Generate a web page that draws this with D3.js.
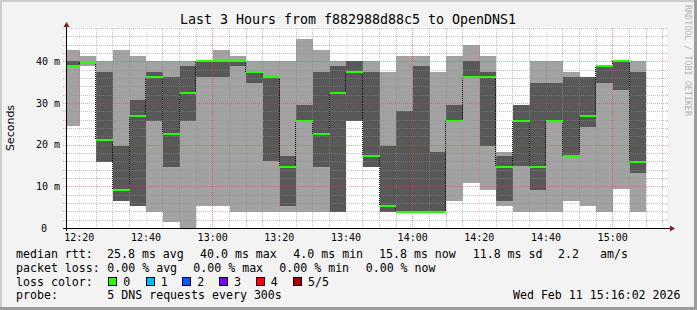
<!DOCTYPE html>
<html>
<head>
<meta charset="utf-8">
<script src="https://cdn.jsdelivr.net/npm/d3@7"></script>
<style>
  body { margin: 0; background: #f3f3f3; }
  svg { display: block; }
  text { font-family: "DejaVu Sans Mono", monospace; fill: #000; }
</style>
</head>
<body>
<div id="chart"></div>
<script>
// datos (ms), un intervalo de 5 min por barra
const slots = ["12:15","12:20","12:25","12:30","12:35","12:40","12:45","12:50","12:55",
  "13:00","13:05","13:10","13:15","13:20","13:25","13:30","13:35","13:40","13:45","13:50","13:55",
  "14:00","14:05","14:10","14:15","14:20","14:25","14:30","14:35","14:40","14:45","14:50","14:55",
  "15:00","15:05"];
const minRtt = [24.4,38.8,15.8,6.6,5.4,3.9,1.4,0.0,5.4,5.4,3.9,3.9,3.9,3.9,3.9,3.9,3.9,25.6,14.6,3.9,3.9,
  3.9,3.9,6.6,10.8,9.2,5.4,3.9,3.9,3.9,6.6,5.4,3.9,9.4,3.9];
const lowRtt = [38.7,39.6,15.8,6.6,5.4,25.6,14.6,25.6,36.2,36.2,38.8,34.8,16.0,5.4,25.6,14.6,3.9,25.6,14.6,3.9,3.9,
  3.9,3.9,25.6,36.2,19.8,6.6,14.8,9.2,25.6,17.2,24.2,34.8,33.2,13.2];
const medRtt = [38.8,39.8,21.2,9.2,26.8,36.2,22.5,32.3,40.0,40.0,40.0,37.4,36.2,14.6,25.6,22.5,32.3,37.4,17.2,5.4,3.9,
  3.9,3.9,25.6,36.2,36.2,14.6,25.6,14.6,25.6,17.2,26.8,38.8,40.0,15.8];
const highRtt = [40.0,40.0,37.4,19.8,30.8,37.4,36.2,38.8,40.0,40.1,40.1,37.5,36.3,17.2,29.6,37.4,38.8,40.0,37.4,19.8,28.2,
  38.8,18.3,29.6,40.0,37.4,17.2,29.6,34.8,34.8,36.2,36.2,38.8,40.0,37.4];
const maxRtt = [42.6,41.4,40.0,42.6,41.4,40.0,40.0,40.0,40.0,42.6,41.4,40.0,40.0,40.0,45.4,42.6,40.0,40.0,40.0,37.4,41.4,
  41.4,37.4,41.4,44.0,41.4,18.3,29.6,40.0,40.0,37.4,36.2,38.8,40.0,40.0];

const yTicks = [0, 10, 20, 30, 40];
const yTickLabels = ["0", "10 m", "20 m", "30 m", "40 m"];

const lossLabels = ["0", "1", "2", "3", "4", "5/5"];
const lossColors = ["#26ff00", "#00b8ff", "#0059ff", "#7e00ff", "#ff0000", "#a00000"];

const rttStats = ["25.8 ms avg", "40.0 ms max", "4.0 ms min", "15.8 ms now", "11.8 ms sd", "2.2", "am/s"];
const lossStats = ["0.00 % avg", "0.00 % max", "0.00 % min", "0.00 % now"];

const W = 697, H = 310;
const plot = { left: 66, right: 666, top: 28, bottom: 228 };

const parseT = d3.utcParse("%H:%M");
const t0 = parseT("12:16"), t1 = parseT("15:16");

const svg = d3.select("#chart").append("svg").attr("width", W).attr("height", H);

// fondo y marco
svg.append("rect").attr("width", W).attr("height", H).attr("fill", "#f3f3f3");
svg.append("path").attr("d", `M1,${H} V1 H${W}`).attr("fill", "none").attr("stroke", "#cdcdcd").attr("stroke-width", 2);
svg.append("path").attr("d", `M0,${H - 1.5} H${W - 1.5} V0`).attr("fill", "none").attr("stroke", "#9c9c9c").attr("stroke-width", 3);

const x = d3.scaleUtc().domain([t0, t1]).range([plot.left, plot.right]);
const y = d3.scaleLinear().domain([0, 48]).range([plot.bottom, plot.top]);
const px = t => Math.ceil(x(t) - 0.05);
const gx = t => Math.floor(x(t) + 0.05) + 0.5;
const py = v => Math.round(y(v));

svg.append("rect")
  .attr("x", plot.left).attr("y", plot.top - 1)
  .attr("width", plot.right - plot.left + 1).attr("height", plot.bottom - plot.top + 1)
  .attr("fill", "#fff");

svg.append("clipPath").attr("id", "clip")
  .append("rect").attr("x", plot.left + 1).attr("y", 0).attr("width", plot.right - plot.left).attr("height", H);

const data = slots.map((s, i) => ({
  t: parseT(s),
  t2: d3.utcMinute.offset(parseT(s), 5),
  min: minRtt[i], lo: lowRtt[i], med: medRtt[i], hi: highRtt[i], max: maxRtt[i]
}));

const smoke = svg.append("g").attr("clip-path", "url(#clip)").attr("shape-rendering", "crispEdges");

// humo exterior
smoke.selectAll("rect.outer").data(data).join("rect")
  .attr("class", "outer")
  .attr("x", d => px(d.t)).attr("width", d => px(d.t2) - px(d.t))
  .attr("y", d => py(d.max)).attr("height", d => py(d.min) - py(d.max))
  .attr("fill", "#a2a2a2");

// humo interior
smoke.selectAll("rect.inner").data(data).join("rect")
  .attr("class", "inner")
  .attr("x", d => px(d.t)).attr("width", d => px(d.t2) - px(d.t))
  .attr("y", d => py(d.hi)).attr("height", d => py(d.lo) - py(d.hi))
  .attr("fill", "#585858");

// rejilla
const grid = svg.append("g").attr("shape-rendering", "crispEdges");
const minorY = d3.range(0, 49, 2).filter(v => v % 10 !== 0);
grid.selectAll("line.hmin").data(minorY).join("line")
  .attr("x1", plot.left - 3).attr("x2", plot.right + 2)
  .attr("y1", d => py(d) + 0.5).attr("y2", d => py(d) + 0.5)
  .attr("stroke", "rgba(140,140,140,0.5)").attr("stroke-dasharray", "1,1");
grid.selectAll("line.hmaj").data(yTicks.slice(1)).join("line")
  .attr("x1", plot.left - 3).attr("x2", plot.right + 2)
  .attr("y1", d => py(d) + 0.5).attr("y2", d => py(d) + 0.5)
  .attr("stroke", "rgba(235,60,60,0.45)").attr("stroke-dasharray", "1,1");

const ticks5 = d3.utcMinute.every(5).range(t0, t1);
const minorX = ticks5.filter(d => d.getUTCMinutes() % 20 !== 0);
const majorX = ticks5.filter(d => d.getUTCMinutes() % 20 === 0);
grid.selectAll("line.vmin").data(minorX).join("line")
  .attr("x1", gx).attr("x2", gx)
  .attr("y1", plot.top).attr("y2", plot.bottom + 2)
  .attr("stroke", "rgba(140,140,140,0.5)").attr("stroke-dasharray", "1,1");
grid.selectAll("line.vmaj").data(majorX).join("line")
  .attr("x1", gx).attr("x2", gx)
  .attr("y1", plot.top).attr("y2", plot.bottom + 2)
  .attr("stroke", d => d.getUTCMinutes() === 0 ? "rgba(235,60,60,0.6)" : "rgba(235,60,60,0.2)")
  .attr("stroke-dasharray", "1,1");

// mediana: conectores punteados y segmentos verdes
const med = svg.append("g").attr("clip-path", "url(#clip)").attr("shape-rendering", "crispEdges");
med.selectAll("line.conn").data(data.slice(1)).join("line")
  .attr("x1", d => px(d.t) - 0.5).attr("x2", d => px(d.t) - 0.5)
  .attr("y1", (d, i) => py(data[i].med)).attr("y2", d => py(d.med))
  .attr("stroke", "#000").attr("stroke-dasharray", "1,1");
med.selectAll("line.med").data(data).join("line")
  .attr("x1", d => px(d.t)).attr("x2", d => px(d.t2))
  .attr("y1", d => py(d.med)).attr("y2", d => py(d.med))
  .attr("stroke", lossColors[0]).attr("stroke-width", 2);

// ejes
svg.append("line").attr("x1", plot.left - 3).attr("x2", plot.right + 4)
  .attr("y1", plot.bottom + 0.5).attr("y2", plot.bottom + 0.5).attr("stroke", "#000");
svg.append("line").attr("x1", plot.left + 0.5).attr("x2", plot.left + 0.5)
  .attr("y1", plot.bottom + 3).attr("y2", plot.top - 2).attr("stroke", "#000");
svg.append("path").attr("d", `M${plot.left + 0.5},${plot.top - 6} l-3,5 h6 z`).attr("fill", "#8b1a1a");
svg.append("path").attr("d", `M${plot.right + 9},${plot.bottom + 0.5} l-5,-3 v6 z`).attr("fill", "#8b1a1a");

// etiquetas Y
svg.selectAll("text.ytick").data(yTicks).join("text")
  .attr("class", "ytick")
  .attr("x", d => d === 0 ? 47 : 60)
  .attr("y", d => y(d) + 3.5)
  .attr("text-anchor", "end")
  .attr("font-size", "10px")
  .text((d, i) => yTickLabels[i]);

// etiquetas X
svg.selectAll("text.xtick").data(majorX).join("text")
  .attr("class", "xtick")
  .attr("x", d => x(d))
  .attr("y", 241)
  .attr("text-anchor", "middle")
  .attr("font-size", "10px")
  .text(d => d3.utcFormat("%H:%M")(d));

// titulo
svg.append("text").attr("x", 348).attr("y", 24).attr("text-anchor", "middle")
  .attr("font-size", "13.3px").text("Last 3 Hours from f882988d88c5 to OpenDNS1");

svg.append("text")
  .attr("transform", "translate(14,128) rotate(-90)")
  .attr("text-anchor", "middle")
  .style("font-family", "'DejaVu Sans', sans-serif")
  .attr("font-size", "11px")
  .text("Seconds");

svg.append("text")
  .attr("transform", "translate(685,5) rotate(90)")
  .attr("font-size", "8.4px")
  .style("fill", "#b4b4b4")
  .text("RRDTOOL / TOBI OETIKER");

// leyenda
const fs = "11.6px";
const rows = [258, 271.5, 285.5, 299];
const rttX = [107, 200, 293.3, 379, 472.7, 558, 600];
const lossX = [107.3, 193.3, 279.3, 365.7];

svg.append("text").attr("x", 16).attr("y", rows[0]).attr("font-size", fs).text("median rtt:");
svg.selectAll("text.rtt").data(rttStats).join("text")
  .attr("class", "rtt").attr("x", (d, i) => rttX[i]).attr("y", rows[0]).attr("font-size", fs).text(d => d);

svg.append("text").attr("x", 16).attr("y", rows[1]).attr("font-size", fs).text("packet loss:");
svg.selectAll("text.loss").data(lossStats).join("text")
  .attr("class", "loss").attr("x", (d, i) => lossX[i]).attr("y", rows[1]).attr("font-size", fs).text(d => d);

svg.append("text").attr("x", 16).attr("y", rows[2]).attr("font-size", fs).text("loss color:");
const sqX = [108.3, 145.7, 182.3, 219, 255.7, 293];
const lg = svg.selectAll("g.lc").data(lossLabels).join("g").attr("class", "lc");
lg.append("rect")
  .attr("x", (d, i) => Math.round(sqX[i]) + 0.5).attr("y", 277.5)
  .attr("width", 8).attr("height", 8)
  .attr("fill", (d, i) => lossColors[i]).attr("stroke", "#000");
lg.append("text")
  .attr("x", (d, i) => sqX[i] + 15).attr("y", rows[2]).attr("font-size", fs).text(d => d);

svg.append("text").attr("x", 16).attr("y", rows[3]).attr("font-size", fs).text("probe:");
svg.append("text").attr("x", 107.3).attr("y", rows[3]).attr("font-size", fs).text("5 DNS requests every 300s");
svg.append("text").attr("x", 680.5).attr("y", rows[3]).attr("text-anchor", "end").attr("font-size", fs)
  .text("Wed Feb 11 15:16:02 2026");
</script>
</body>
</html>
